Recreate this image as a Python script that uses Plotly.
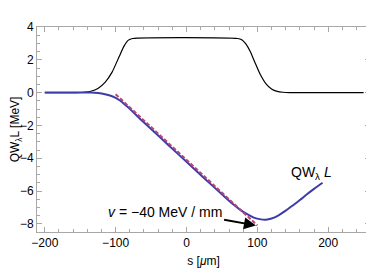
import plotly.graph_objects as go

# black curve (W profile)
s_black = [-200, -155, -145, -135, -125, -115, -105, -95, -88, -82, -76, 72, 78, 84, 90, 96, 104, 112, 120, 128, 136, 146, 250]
y_black = [0, 0, 0.02, 0.08, 0.25, 0.62, 1.25, 2.2, 2.85, 3.2, 3.3, 3.3, 3.22, 2.95, 2.5, 1.9, 1.12, 0.55, 0.22, 0.07, 0.02, 0, 0]

# blue curve QW_lambda L
s_blue = [-200, -150, -135, -125, -115, -105, -95, -85, -75, -65, -50, -25, 0, 25, 50, 65, 75, 85, 95, 105, 112, 120, 130, 140, 150, 160, 170, 180, 192]
y_blue = [0, 0, 0, -0.03, -0.1, -0.22, -0.45, -0.8, -1.2, -1.62, -2.22, -3.22, -4.22, -5.22, -6.2, -6.78, -7.12, -7.4, -7.62, -7.73, -7.75, -7.68, -7.48, -7.2, -6.88, -6.55, -6.2, -5.87, -5.5]

# dashed linear fit, v = -40 MeV/mm
s_fit = [-100, 100]
y_fit = [-0.1, -8.1]

FONT = "Liberation Sans"
GRAY = "#a8a8a8"

fig = go.Figure()
fig.add_trace(go.Scatter(x=s_black, y=y_black, mode="lines", line=dict(color="black", width=1.2, shape="spline", smoothing=0.6)))
fig.add_trace(go.Scatter(x=s_blue, y=y_blue, mode="lines", line=dict(color="#3c3ca8", width=2, shape="spline", smoothing=0.6)))
fig.add_trace(go.Scatter(x=s_fit, y=y_fit, mode="lines", line=dict(color="#b5457a", width=2, dash="4px,2px")))

fig.add_annotation(x=177, y=-4.9, text="QW<sub>λ</sub> <i>L</i>", showarrow=False, font=dict(size=14, color="black", family=FONT))
fig.add_annotation(x=-31, y=-7.29, text="<i>v</i> = −40 MeV / mm", showarrow=False, font=dict(size=14, color="black", family=FONT))
fig.add_annotation(x=98, y=-8.1, ax=51, ay=-7.73, axref="x", ayref="y", xref="x", yref="y", text="", showarrow=True, arrowhead=2, arrowsize=1.2, arrowwidth=2, arrowcolor="black")

axis_common = dict(showgrid=False, zeroline=False, showline=True, linecolor=GRAY, linewidth=1,
                   mirror="allticks", ticks="inside", tickcolor=GRAY, ticklen=5, automargin=False,
                   tickfont=dict(size=12, color="black", family=FONT))
fig.update_xaxes(range=[-211, 259], tickvals=[-200, -100, 0, 100, 200],
                 minor=dict(dtick=20, tick0=0, ticks="inside", ticklen=3, tickcolor=GRAY),
                 title=dict(text="s [<i>μ</i>m]", font=dict(size=12, color="black", family=FONT), standoff=7),
                 **axis_common)
fig.update_yaxes(range=[-8.5, 4], tickvals=[-8, -6, -4, -2, 0, 2, 4],
                 minor=dict(dtick=0.5, tick0=0, ticks="inside", ticklen=3, tickcolor=GRAY),
                 title=dict(text="QW<sub>λ</sub>L [MeV]", font=dict(size=12, color="black", family=FONT), standoff=4),
                 **axis_common)
fig.update_layout(width=366, height=272, margin=dict(l=29, r=4, t=19, b=48),
                  plot_bgcolor="white", paper_bgcolor="white", showlegend=False)
fig.write_html("out.html")
